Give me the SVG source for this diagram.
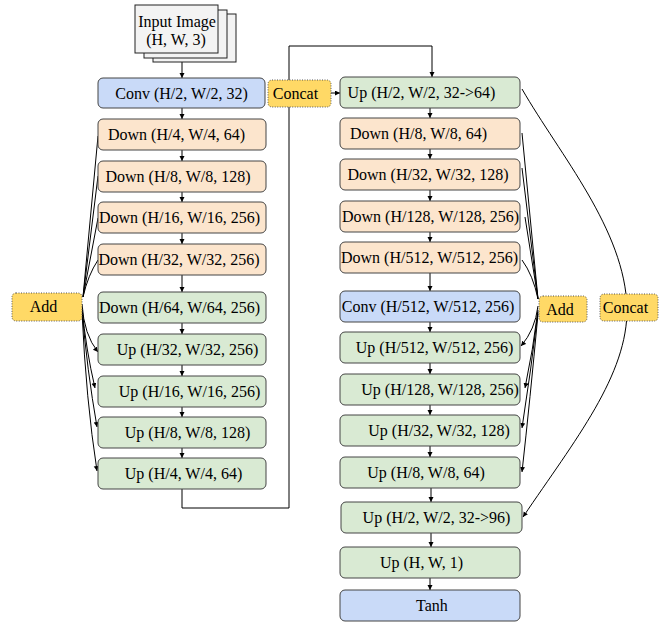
<svg xmlns="http://www.w3.org/2000/svg" width="665" height="625" viewBox="0 0 665 625">
<defs>
<marker id="ah" markerUnits="userSpaceOnUse" markerWidth="6" markerHeight="6" refX="5" refY="2.5" orient="auto">
<path d="M0,0 L5,2.5 L0,5 z" fill="#000"/>
</marker>
<style>
.t{font-family:"Liberation Serif","Times New Roman",serif;font-size:16px;fill:#000;text-anchor:middle}
.b{stroke:#444;stroke-width:1}
.blue{fill:#c9daf8}
.org{fill:#fce5cd}
.grn{fill:#d9ead3}
.yel{fill:#ffd966;stroke:#555;stroke-width:1;stroke-dasharray:1 1.5}
.img{fill:#f3f3f3;stroke:#222;stroke-width:1}
.c{fill:none;stroke:#000;stroke-width:1}
.ca{fill:none;stroke:#000;stroke-width:1;marker-end:url(#ah)}
</style>
</defs>
<rect width="665" height="625" fill="#fff"/>

<g id="connectors">
<!-- left column vertical arrows -->
<path class="ca" d="M182,62 V78"/>
<path class="ca" d="M182,108 V119"/>
<path class="ca" d="M182,150 V161"/>
<path class="ca" d="M182,192 V202"/>
<path class="ca" d="M182,233 V244"/>
<path class="ca" d="M182,275 V292"/>
<path class="ca" d="M182,323 V334"/>
<path class="ca" d="M182,365 V376"/>
<path class="ca" d="M182,407 V417"/>
<path class="ca" d="M182,448 V458"/>
<!-- loop from Up H/4 to right column top -->
<path class="ca" d="M182,489 V508 H289 V46 H432 V77"/>
<!-- concat arrow -->
<path class="ca" d="M331,93 H340"/>
<!-- right column vertical arrows -->
<path class="ca" d="M430,108 V118"/>
<path class="ca" d="M430,149 V159"/>
<path class="ca" d="M430,190 V201"/>
<path class="ca" d="M430,232 V242"/>
<path class="ca" d="M430,273 V291"/>
<path class="ca" d="M430,322 V332"/>
<path class="ca" d="M430,363 V374"/>
<path class="ca" d="M430,405 V415"/>
<path class="ca" d="M430,446 V457"/>
<path class="ca" d="M431,488 V502"/>
<path class="ca" d="M431,533 V547"/>
<path class="ca" d="M430,578 V590"/>
<!-- left skip: Down -> Add -->
<path class="c" d="M98,136 L83,297"/>
<path class="c" d="M98,176 L83,297"/>
<path class="c" d="M98,218 L83,297"/>
<path class="c" d="M98,260 Q88,275 83,297"/>
<!-- left: Add -> Up -->
<path class="ca" d="M82,304 Q84,335 98,352"/>
<path class="ca" d="M82,308 Q86,350 95,388"/>
<path class="ca" d="M82,310 Q87,370 97,427"/>
<path class="ca" d="M82,312 Q86,400 97,471"/>
<!-- right skip: Down -> Add -->
<path class="c" d="M522,133 L538,299"/>
<path class="c" d="M522,168 L538,299"/>
<path class="c" d="M525,217 L538,299"/>
<path class="c" d="M522,260 Q533,275 538,299"/>
<!-- right: Add -> Up -->
<path class="ca" d="M538,306 Q535,330 521,346"/>
<path class="ca" d="M538,310 Q533,350 525,388"/>
<path class="ca" d="M538,312 Q531,370 522,428"/>
<path class="ca" d="M538,314 Q530,400 522,472"/>
<!-- concat curve -->
<path class="ca" d="M522,89 C560,155 625,230 627,308 C628,375 575,440 523,517"/>
</g>

<g id="input-image">
<rect class="img" x="153" y="14" width="83" height="48"/>
<rect class="img" x="144" y="10" width="83" height="48"/>
<rect class="img" x="135" y="5" width="83" height="48"/>
<text class="t" x="177" y="26.5">Input Image</text>
<text class="t" x="176" y="44.5">(H, W, 3)</text>
</g>

<g id="conv-left"><rect class="b blue" x="98" y="78" width="167" height="30" rx="5"/><text class="t" x="181.5" y="98.5">Conv (H/2, W/2, 32)</text></g>
<g id="down-4"><rect class="b org" x="98" y="119" width="168" height="31" rx="5"/><text class="t" x="176.5" y="140">Down (H/4, W/4, 64)</text></g>
<g id="down-8"><rect class="b org" x="98" y="161" width="168" height="31" rx="5"/><text class="t" x="178" y="182">Down (H/8, W/8, 128)</text></g>
<g id="down-16"><rect class="b org" x="98" y="202" width="168" height="31" rx="5"/><text class="t" x="179.5" y="223">Down (H/16, W/16, 256)</text></g>
<g id="down-32"><rect class="b org" x="98" y="244" width="168" height="31" rx="5"/><text class="t" x="179" y="265">Down (H/32, W/32, 256)</text></g>
<g id="down-64"><rect class="b grn" x="98" y="292" width="168" height="31" rx="5"/><text class="t" x="179.5" y="313">Down (H/64, W/64, 256)</text></g>
<g id="up-32-left"><rect class="b grn" x="98" y="334" width="168" height="31" rx="5"/><text class="t" x="187.5" y="355">Up (H/32, W/32, 256)</text></g>
<g id="up-16-left"><rect class="b grn" x="98" y="376" width="168" height="31" rx="5"/><text class="t" x="189.5" y="397">Up (H/16, W/16, 256)</text></g>
<g id="up-8-left"><rect class="b grn" x="98" y="417" width="168" height="31" rx="5"/><text class="t" x="187.5" y="438">Up (H/8, W/8, 128)</text></g>
<g id="up-4-left"><rect class="b grn" x="98" y="458" width="168" height="31" rx="5"/><text class="t" x="183.5" y="479">Up (H/4, W/4, 64)</text></g>

<g id="add-left"><rect class="yel" x="12" y="293" width="70" height="28" rx="4"/><text class="t" x="43.5" y="312">Add</text></g>
<g id="concat-left"><rect class="yel" x="268" y="80" width="63" height="27" rx="4"/><text class="t" x="295.5" y="98.5">Concat</text></g>

<g id="up-2-64"><rect class="b grn" x="340" y="77" width="180" height="31" rx="5"/><text class="t" x="421.5" y="98">Up (H/2, W/2, 32-&gt;64)</text></g>
<g id="down-8-r"><rect class="b org" x="340" y="118" width="180" height="31" rx="5"/><text class="t" x="418.5" y="139">Down (H/8, W/8, 64)</text></g>
<g id="down-32-r"><rect class="b org" x="340" y="159" width="180" height="31" rx="5"/><text class="t" x="428" y="180">Down (H/32, W/32, 128)</text></g>
<g id="down-128-r"><rect class="b org" x="340" y="201" width="180" height="31" rx="5"/><text class="t" x="430.5" y="222">Down (H/128, W/128, 256)</text></g>
<g id="down-512-r"><rect class="b org" x="340" y="242" width="180" height="31" rx="5"/><text class="t" x="429.5" y="263">Down (H/512, W/512, 256)</text></g>
<g id="conv-512"><rect class="b blue" x="340" y="291" width="180" height="31" rx="5"/><text class="t" x="428" y="312">Conv (H/512, W/512, 256)</text></g>
<g id="up-512-r"><rect class="b grn" x="340" y="332" width="180" height="31" rx="5"/><text class="t" x="434.5" y="353">Up (H/512, W/512, 256)</text></g>
<g id="up-128-r"><rect class="b grn" x="340" y="374" width="180" height="31" rx="5"/><text class="t" x="440" y="395">Up (H/128, W/128, 256)</text></g>
<g id="up-32-r"><rect class="b grn" x="340" y="415" width="180" height="31" rx="5"/><text class="t" x="439" y="436">Up (H/32, W/32, 128)</text></g>
<g id="up-8-r"><rect class="b grn" x="340" y="457" width="180" height="31" rx="5"/><text class="t" x="426" y="478">Up (H/8, W/8, 64)</text></g>
<g id="up-2-96"><rect class="b grn" x="341" y="502" width="181" height="31" rx="5"/><text class="t" x="436.5" y="523">Up (H/2, W/2, 32-&gt;96)</text></g>
<g id="up-1"><rect class="b grn" x="340" y="547" width="180" height="31" rx="5"/><text class="t" x="421.5" y="568">Up (H, W, 1)</text></g>
<g id="tanh"><rect class="b blue" x="340" y="590" width="180" height="31" rx="5"/><text class="t" x="432" y="611">Tanh</text></g>

<g id="add-right"><rect class="yel" x="539" y="296" width="48" height="26" rx="4"/><text class="t" x="560" y="314.5">Add</text></g>
<g id="concat-right"><rect class="yel" x="600" y="294" width="58" height="27" rx="4"/><text class="t" x="625.5" y="313">Concat</text></g>
</svg>
